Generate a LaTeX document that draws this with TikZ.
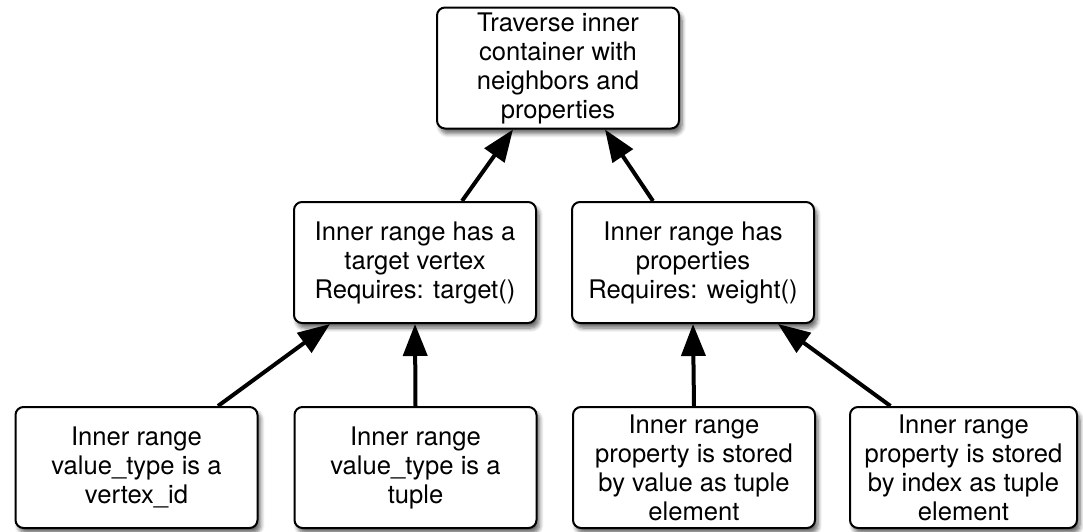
\documentclass[tikz,border=0pt]{standalone}
\usepackage{fontspec}
\setmainfont{TeX Gyre Heros}
\usetikzlibrary{arrows.meta,positioning,shadows.blur}

\begin{document}
\begin{tikzpicture}[x=0.5pt,y=-0.5pt,
box/.style={draw=black, line width=1pt, fill=white, rounded corners=4pt, align=center,
  minimum width=121pt, minimum height=60.5pt, inner sep=2pt,
  font=\fontsize{12.8}{14.5}\selectfont,
  blur shadow={shadow xshift=1.5pt, shadow yshift=-2.5pt, shadow blur steps=6, shadow opacity=60}},
arr/.style={line width=2pt, -{Triangle[length=16pt,width=12pt]}}
]
\useasboundingbox (0,0) rectangle (1083,531);
% top level
\node[box] (trav) at (558,68) {Traverse inner\\container with\\neighbors and\\properties};
% middle level
\node[box] (tgt) at (415,262.5) {Inner range has a\\target vertex\\Requires: target()};
\node[box] (prop) at (693,262.5) {Inner range has\\properties\\Requires: weight()};
% bottom level
\node[box] (vid) at (136.5,467.5) {Inner range\\value\_type is a\\vertex\_id};
\node[box] (tup) at (415.5,467.5) {Inner range\\value\_type is a\\tuple};
\node[box] (byval) at (694,467.5) {Inner range\\property is stored\\by value as tuple\\element};
\node[box, minimum width=113.5pt] (byidx) at (963.5,467.5) {Inner range\\property is stored\\by index as tuple\\element};
% arrows
\draw[arr] ([xshift=23.5pt]tgt.north) -- ([xshift=-22.5pt]trav.south);
\draw[arr] ([xshift=-20pt]prop.north) -- ([xshift=23.5pt]trav.south);
\draw[arr] ([xshift=40.75pt]vid.north) -- ([xshift=-42.5pt]tgt.south);
\draw[arr] (tup.north) -- (tgt.south);
\draw[arr] (byval.north) -- (prop.south);
\draw[arr] ([xshift=-36.5pt]byidx.north) -- ([xshift=42.5pt]prop.south);
\end{tikzpicture}
\end{document}
